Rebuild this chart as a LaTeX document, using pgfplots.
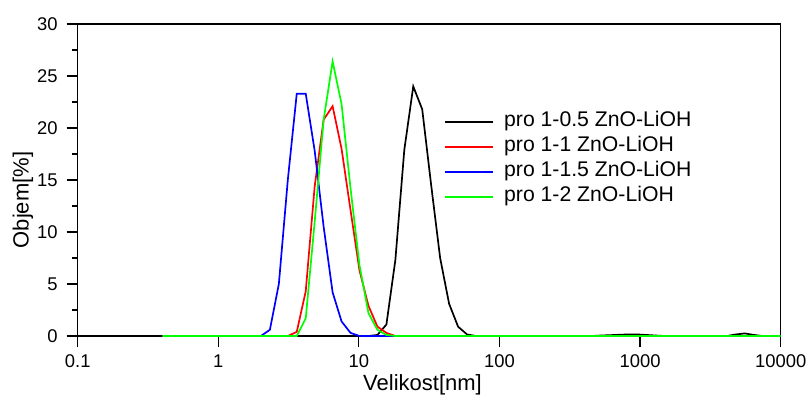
\documentclass[border=0pt]{standalone}
\usepackage{fontspec}
\setmainfont{Liberation Sans}
\usepackage{pgfplots}
\pgfplotsset{compat=1.18}
\definecolor{cgreen}{RGB}{0,255,0}
\definecolor{cred}{RGB}{255,0,0}
\definecolor{cblue}{RGB}{0,0,255}
\begin{document}
\begin{tikzpicture}
\begin{axis}[
  at={(0,0)}, anchor=south west,
  scale only axis,
  width=351.5pt, height=156pt,
  xmode=log, log basis x=10,
  xmin=0.1, xmax=10000, ymin=0, ymax=30,
  xtick={0.1,1,10,100,1000,10000},
  xticklabels={0.1,1,10,100,1000,10000},
  ytick={0,5,10,15,20,25,30},
  minor y tick num=1,
  tick align=outside,
  xtick pos=bottom, ytick pos=left,
  major tick length=5.5pt, minor tick length=3pt,
  every tick/.style={black, line width=0.6pt},
  axis line style={line width=0.7pt},
  /pgf/number format/assume math mode=true,
  tick label style={font=\fontsize{9.2}{11}\selectfont},
  xticklabel style={yshift=-0.5pt},
  yticklabel style={xshift=-1pt},
  xlabel={Velikost[nm]}, ylabel={Objem[\%]},
  label style={font=\fontsize{11}{13}\selectfont},
  xlabel style={at={(axis description cs:0.4905,-0.157)}, anchor=center},
  ylabel style={at={(axis description cs:-0.0778,0.436)}, anchor=center},
  legend style={at={(axis description cs:0.5205,0.726)}, anchor=north west,
    draw=none, fill=none, inner sep=0pt, row sep=0pt,
    font=\fontsize{10.6}{12.5}\selectfont,
    nodes={inner sep=0pt, text height=8.5pt, text depth=4pt},
    column sep=5pt},
  legend cell align=left,
  legend image code/.code={\draw[#1, line width=1.1pt] (0pt,0pt) -- (24pt,0pt);},
  every axis plot/.append style={line width=0.85pt},
]
\addplot[color=black] coordinates {
(0.4,0) (11.7,0) (13.54,0.1) (15.69,1.1) (18.17,7.3) (21.04,17.9) (24.36,24.0)
(28.21,21.8) (32.67,14.5) (37.84,7.5) (43.82,3.1) (50.75,0.9) (58.77,0.15) (68.06,0)
(458.7,0) (531.2,0.05) (615.1,0.08) (712.4,0.12) (825,0.15) (955.4,0.15) (1106,0.1)
(1281,0.05) (1484,0) (4145,0) (4801,0.15) (5560,0.25) (6439,0.1) (7456,0) (10000,0)
};
\addlegendentry{pro 1-0.5 ZnO-LiOH}
\addplot[color=cred] coordinates {
(0.4,0) (3.122,0) (3.615,0.4) (4.187,4.3) (4.849,14.4) (5.615,20.8) (6.503,22.1)
(7.531,18.0) (8.721,12.1) (10.1,6.3) (11.7,2.9) (13.54,0.9) (15.69,0.3) (18.17,0) (10000,0)
};
\addlegendentry{pro 1-1 ZnO-LiOH}
\addplot[color=cblue] coordinates {
(0.4,0) (2.01,0) (2.328,0.6) (2.696,5.0) (3.122,15.0) (3.615,23.3) (4.187,23.3)
(4.849,17.8) (5.615,10.5) (6.503,4.2) (7.531,1.4) (8.721,0.3) (10.1,0) (10000,0)
};
\addlegendentry{pro 1-1.5 ZnO-LiOH}
\addplot[color=cgreen] coordinates {
(0.4,0) (3.615,0) (4.187,1.7) (4.849,11.0) (5.615,20.8) (6.503,26.4) (7.531,22.3)
(8.721,14.2) (10.1,6.8) (11.7,2.2) (13.54,0.6) (15.69,0.1) (18.17,0) (10000,0)
};
\addlegendentry{pro 1-2 ZnO-LiOH}
\end{axis}
\pgfresetboundingbox
\path[use as bounding box] (-38.85pt,-33.5pt) rectangle (366.15pt,168pt);
\end{tikzpicture}
\end{document}
